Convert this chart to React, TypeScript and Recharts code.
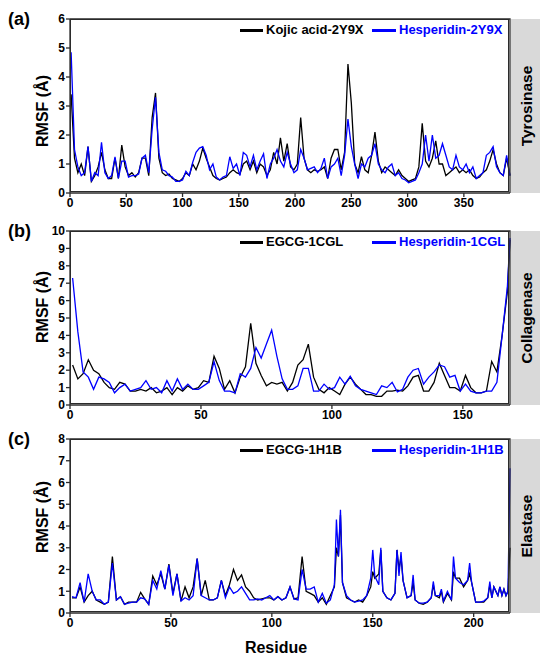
import React from 'react';
import { LineChart, Line, XAxis, YAxis, Legend } from 'recharts';

const FONT = '"Liberation Sans", Arial, Helvetica, sans-serif';

// (a) Tyrosinase, 2Y9X
const tyrResidue = [
  1, 4, 7, 10, 13, 16, 19, 22, 25, 28, 31, 34, 37, 40, 43, 46, 49, 52, 55, 58,
  61, 64, 67, 70, 73, 76, 79, 82, 85, 88, 91, 94, 97, 100, 103, 106, 109, 112, 115, 118,
  121, 124, 127, 130, 133, 136, 139, 142, 145, 148, 151, 154, 157, 160, 163, 166, 169, 172, 175, 178,
  181, 184, 187, 190, 193, 196, 199, 202, 205, 208, 211, 214, 217, 220, 223, 226, 229, 232, 235, 238,
  241, 244, 247, 250, 253, 256, 259, 262, 265, 268, 271, 274, 277, 280, 283, 286, 289, 292, 295, 298,
  301, 304, 307, 310, 313, 316, 319, 322, 325, 328, 331, 334, 337, 340, 343, 346, 349, 352, 355, 358,
  361, 364, 367, 370, 373, 376, 379, 382, 385, 388, 391,
];
const tyrKojic = [
  3.4, 1.2, 0.7, 1.0, 0.6, 1.6, 0.4, 0.6, 0.9, 1.4,
  0.8, 0.5, 0.5, 1.2, 0.5, 1.65, 0.9, 0.6, 0.7, 0.55,
  0.7, 1.2, 1.2, 0.6, 2.6, 3.45, 1.2, 0.7, 0.6, 0.65,
  0.5, 0.45, 0.4, 0.5, 0.7, 0.6, 1.0, 0.8, 1.1, 1.55,
  1.2, 0.9, 0.6, 0.5, 0.45, 0.5, 0.55, 0.7, 0.8, 0.7,
  0.65, 1.0, 1.1, 0.8, 1.1, 0.7, 1.0, 0.9, 0.6, 0.8,
  1.4, 1.0, 1.9, 1.1, 1.7, 0.9, 0.8, 1.0, 2.6, 1.2,
  0.8, 0.7, 0.8, 0.75, 0.8, 0.9, 0.5, 1.2, 1.5, 1.5,
  0.8, 1.4, 4.45, 3.1, 1.0, 0.7, 1.25, 0.8, 0.7, 1.3,
  2.1, 1.1, 0.7, 0.9, 0.8, 0.7, 0.6, 0.8, 0.6, 0.5,
  0.4, 0.45, 0.5, 0.9, 2.4, 1.1, 0.9, 1.2, 1.8, 1.0,
  1.0, 0.6, 0.7, 0.8, 0.9, 0.7, 0.8, 0.7, 0.8, 0.6,
  0.5, 0.55, 0.7, 0.8, 1.1, 1.5, 1.0, 0.7, 0.6, 1.2,
  0.6,
];
const tyrHesperidin = [
  4.85, 1.5, 0.9, 0.6, 0.7, 1.6, 0.4, 0.7, 0.6, 1.75,
  0.7, 0.5, 0.6, 1.25, 0.5, 1.1, 1.1, 0.55, 0.6, 0.6,
  0.65, 1.2, 1.3, 0.7, 2.2, 3.3, 1.4, 0.8, 0.75, 0.6,
  0.55, 0.4, 0.4, 0.45, 0.75, 0.6, 1.05, 1.4, 1.55, 1.6,
  1.3, 0.8, 1.0, 0.55, 0.45, 0.55, 0.6, 1.25, 0.85, 1.0,
  0.6, 1.4, 1.3, 0.9, 1.3, 0.8, 1.1, 1.35, 0.5, 1.0,
  1.2, 1.5, 1.1, 0.9, 1.4, 1.0, 0.7, 0.8, 1.5, 1.2,
  0.8, 0.85, 0.9, 0.7, 0.85, 1.2, 0.5, 0.9, 1.0, 1.2,
  0.6, 1.3, 2.55, 1.6, 1.0, 0.5, 1.0, 0.9, 1.2, 1.3,
  1.7, 1.0, 0.8, 0.7, 0.9, 1.0, 0.6, 0.7, 0.5, 0.45,
  0.35, 0.4, 0.45, 0.7, 1.0, 2.0, 1.1, 2.0, 1.2, 1.3,
  1.7, 1.3, 0.9, 0.8, 1.3, 0.9, 0.8, 1.0, 0.7, 0.9,
  0.5, 0.6, 0.7, 1.3, 1.4, 1.6, 0.9, 0.7, 0.6, 1.3,
  0.6,
];
const tyrTicksX = [0, 50, 100, 150, 200, 250, 300, 350];
const tyrTicksY = [0, 1, 2, 3, 4, 5, 6];

// (b) Collagenase, 1CGL
const colResidue = [
  1, 3, 5, 7, 9, 11, 13, 15, 17, 19, 21, 23, 25, 27, 29, 31, 33, 35, 37, 39,
  41, 43, 45, 47, 49, 51, 53, 55, 57, 59, 61, 63, 65, 67, 69, 71, 73, 75, 77, 79,
  81, 83, 85, 87, 89, 91, 93, 95, 97, 99, 101, 103, 105, 107, 109, 111, 113, 115, 117, 119,
  121, 123, 125, 127, 129, 131, 133, 135, 137, 139, 141, 143, 145, 147, 149, 151, 153, 155, 157, 159,
  161, 163, 165, 167, 168,
];
const colEgcg = [
  2.3, 1.5, 1.8, 2.6, 2.0, 1.8, 1.3, 1.0, 0.9, 1.3,
  1.2, 0.8, 0.8, 0.9, 0.8, 1.0, 0.7, 0.8, 1.0, 0.6,
  1.0, 0.8, 1.1, 0.9, 1.0, 1.4, 1.3, 2.8, 2.1, 0.9,
  1.4, 0.7, 1.6, 2.2, 4.7, 2.4, 1.7, 1.1, 1.3, 1.2,
  1.3, 0.8, 1.3, 2.3, 2.6, 3.5, 1.6, 0.9, 0.7, 1.0,
  0.8, 0.6, 1.2, 1.6, 1.2, 0.9, 0.6, 0.6, 0.5, 0.5,
  0.8, 0.8, 0.85, 0.8, 1.1, 1.6, 1.7, 0.8, 0.8, 1.3,
  2.4, 1.7, 1.0, 1.0, 0.8, 1.7, 1.0, 0.7, 0.7, 0.8,
  2.5, 1.9, 4.0, 6.5, 9.5,
];
const colHesperidin = [
  7.3, 4.2, 1.9, 1.6, 0.9, 1.6, 1.5, 1.3, 0.7, 1.0,
  1.2, 0.8, 0.9, 1.0, 1.4, 0.9, 1.0, 0.7, 1.4, 0.8,
  1.5, 0.9, 1.2, 0.9, 0.9, 1.1, 1.3, 2.5, 1.4, 0.8,
  0.8, 0.7, 1.8, 1.6, 2.1, 3.3, 2.7, 3.5, 4.3, 2.8,
  1.5, 0.9, 0.9, 1.1, 2.1, 2.1, 0.8, 0.8, 1.2, 0.9,
  1.0, 1.6, 1.2, 1.65, 1.1, 0.9, 0.8, 0.7, 0.6, 1.1,
  1.0, 1.3, 0.75, 0.9, 1.6, 2.0, 2.1, 1.2, 1.6, 1.9,
  2.3, 2.2, 1.6, 1.7, 0.8, 1.2, 0.8, 0.7, 0.7, 0.8,
  0.8, 1.3, 4.0, 6.8, 9.6,
];
const colTicksX = [0, 50, 100, 150];
const colTicksY = [0, 1, 2, 3, 4, 5, 6, 7, 8, 9, 10];

// (c) Elastase, 1H1B
const elaResidue = [
  1, 3, 5, 7, 9, 11, 13, 15, 17, 19, 21, 23, 25, 27, 29, 31, 33, 35, 37, 39,
  41, 43, 45, 47, 49, 51, 53, 55, 57, 59, 61, 63, 65, 67, 69, 71, 73, 75, 77, 79,
  81, 83, 85, 87, 89, 91, 93, 95, 97, 99, 101, 103, 105, 107, 109, 111, 113, 115, 117, 119,
  121, 123, 125, 127, 129, 131, 132, 133, 134, 135, 137, 139, 141, 143, 145, 147, 149, 150, 151, 153,
  154, 155, 157, 159, 161, 162, 163, 164, 165, 167, 169, 170, 171, 173, 175, 177, 179, 180, 181, 183,
  184, 185, 187, 189, 190, 191, 193, 195, 197, 198, 199, 201, 203, 205, 207, 208, 209, 210, 212, 213,
  214, 215, 216, 217, 218,
];
const elaEgcg = [
  0.7, 0.7, 1.2, 0.5, 0.8, 1.0, 0.6, 0.5, 0.4, 0.5,
  2.6, 0.6, 0.75, 0.4, 0.5, 0.5, 0.5, 0.95, 0.65, 0.4,
  1.7, 1.3, 1.8, 1.1, 2.25, 0.9, 1.8, 0.55, 1.2, 0.7,
  1.2, 2.5, 0.8, 1.5, 0.6, 0.6, 0.7, 1.5, 0.8, 1.3,
  2.0, 1.5, 1.75, 1.2, 1.0, 0.7, 0.6, 0.65, 0.7, 0.7,
  0.6, 0.75, 0.6, 0.7, 1.2, 0.65, 0.7, 2.6, 1.0, 0.9,
  0.8, 0.5, 0.7, 0.4, 0.8, 1.2, 3.0, 2.6, 4.5, 1.4,
  0.7, 0.6, 0.5, 0.6, 0.5, 0.8, 1.2, 1.9, 1.6, 1.8,
  2.9, 1.0, 0.7, 0.6, 0.9, 2.9, 2.0, 2.6, 1.5, 0.7,
  0.8, 1.4, 0.6, 0.45, 0.4, 0.5, 0.7, 1.3, 0.8, 0.7,
  1.0, 0.5, 0.9, 0.6, 1.9, 1.6, 1.6, 1.2, 1.5, 1.8,
  1.4, 0.5, 0.5, 0.5, 0.7, 1.3, 0.7, 1.2, 0.8, 1.2,
  0.8, 1.1, 0.8, 1.0, 3.0,
];
const elaHesperidin = [
  0.75, 0.7, 1.4, 0.5, 1.8, 1.0, 0.6, 0.6, 0.4, 0.5,
  2.3, 0.6, 0.75, 0.4, 0.45, 0.5, 0.5, 0.7, 0.65, 0.4,
  1.5, 1.1, 1.95, 1.1, 2.2, 0.8, 1.8, 0.55, 0.7, 0.6,
  0.8, 2.5, 0.8, 0.7, 0.6, 0.6, 0.7, 1.5, 0.7, 1.2,
  0.9, 1.0, 1.2, 0.9, 0.6, 0.6, 0.65, 0.6, 0.7, 0.8,
  0.6, 0.75, 0.6, 0.7, 1.2, 0.65, 0.6, 2.0, 1.1, 1.1,
  1.2, 0.5, 0.9, 0.45, 0.6, 1.3, 4.3, 2.6, 4.75, 1.4,
  0.8, 0.6, 0.5, 0.55, 0.6, 0.8, 1.6, 2.9, 1.7, 1.3,
  3.0, 1.0, 0.7, 0.6, 0.9, 2.9, 1.7, 2.8, 1.5, 0.7,
  0.8, 1.75, 0.6, 0.45, 0.45, 0.5, 0.7, 1.45, 0.8, 0.8,
  1.1, 0.55, 1.0, 0.6, 2.6, 1.6, 1.4, 1.3, 1.5, 2.3,
  1.4, 0.5, 0.5, 0.55, 0.7, 1.45, 0.7, 1.2, 0.8, 1.2,
  0.8, 1.1, 0.8, 1.0, 6.65,
];
const elaTicksX = [0, 50, 100, 150, 200];
const elaTicksY = [0, 1, 2, 3, 4, 5, 6, 7, 8];

const AXIS = { stroke: '#2b2b2b', strokeWidth: 1.3 };
const TICK = { fill: '#000', fontSize: 12, fontWeight: 'bold', fontFamily: FONT };

// plot rectangle inside each 550x213 panel
const PLOT_LEFT = 70;
const PLOT_TOP = 19;
const PLOT_W = 440;
const PLOT_H = 174;

interface PanelProps {
  top: number;
  residues: number[];
  blackValues: number[];
  blueValues: number[];
  blackName: string;
  blueName: string;
  xMax: number;
  xTicks: number[];
  yTicks: number[];
}

const Panel: React.FC<PanelProps> = ({
  top,
  residues,
  blackValues,
  blueValues,
  blackName,
  blueName,
  xMax,
  xTicks,
  yTicks,
}) => {
  const data = residues.map((r, i) => ({ residue: r, black: blackValues[i], blue: blueValues[i] }));
  const yMax = yTicks[yTicks.length - 1];

  const renderLegend = () => (
    <div style={{ display: 'flex', alignItems: 'center', fontFamily: FONT, fontWeight: 'bold', fontSize: 13, lineHeight: '16px' }}>
      <div style={{ width: 132, display: 'flex', alignItems: 'center' }}>
        <span style={{ display: 'inline-block', width: 23, height: 3, background: '#000', marginRight: 3 }} />
        <span style={{ color: '#000' }}>{blackName}</span>
      </div>
      <div style={{ display: 'flex', alignItems: 'center' }}>
        <span style={{ display: 'inline-block', width: 24, height: 3, background: '#0000ff', marginRight: 3 }} />
        <span style={{ color: '#0000ff' }}>{blueName}</span>
      </div>
    </div>
  );

  return (
    <div style={{ position: 'absolute', left: 0, top }}>
      <LineChart
        width={550}
        height={213}
        data={data}
        margin={{ top: PLOT_TOP, right: 550 - PLOT_LEFT - PLOT_W, bottom: 0, left: 0 }}
      >
        <XAxis
          dataKey="residue"
          type="number"
          domain={[0, xMax]}
          ticks={xTicks}
          interval={0}
          height={213 - PLOT_TOP - PLOT_H}
          tickSize={4}
          tickMargin={1}
          axisLine={AXIS}
          tickLine={AXIS}
          tick={TICK}
        />
        <YAxis
          type="number"
          domain={[0, yMax]}
          ticks={yTicks}
          interval={0}
          width={PLOT_LEFT}
          tickSize={4}
          tickMargin={1}
          axisLine={AXIS}
          tickLine={AXIS}
          tick={TICK}
        />
        <Legend layout="horizontal" verticalAlign="middle" content={renderLegend} wrapperStyle={{ top: 22, left: 240, width: 290, height: 16 }} />
        <Line type="linear" dataKey="black" name={blackName} stroke="#000000" strokeWidth={1.3} dot={false} isAnimationActive={false} />
        <Line type="linear" dataKey="blue" name={blueName} stroke="#0000ff" strokeWidth={1.3} dot={false} isAnimationActive={false} />
      </LineChart>
      {/* plot frame, drawn as a bordered box over the plot area */}
      <div
        style={{
          position: 'absolute',
          left: PLOT_LEFT - 0.5,
          top: PLOT_TOP - 0.5,
          width: PLOT_W - 0.5,
          height: PLOT_H - 0.5,
          border: '1.3px solid #2b2b2b',
          boxSizing: 'border-box',
          zIndex: 5,
          pointerEvents: 'none',
        }}
      />
    </div>
  );
};

const panelTops = [0, 212, 420];
const panelLetters = ['(a)', '(b)', '(c)'];
const stripLabels = ['Tyrosinase', 'Collagenase', 'Elastase'];
const rmsfCenters = [111, 307, 517];

export default function App() {
  return (
    <div style={{ position: 'absolute', left: 0, top: 0, width: 550, height: 661, background: '#fff', fontFamily: FONT }}>
      <Panel top={panelTops[0]} residues={tyrResidue} blackValues={tyrKojic} blueValues={tyrHesperidin}
        blackName="Kojic acid-2Y9X" blueName="Hesperidin-2Y9X" xMax={391} xTicks={tyrTicksX} yTicks={tyrTicksY} />
      <Panel top={panelTops[1]} residues={colResidue} blackValues={colEgcg} blueValues={colHesperidin}
        blackName="EGCG-1CGL" blueName="Hesperidin-1CGL" xMax={168} xTicks={colTicksX} yTicks={colTicksY} />
      <Panel top={panelTops[2]} residues={elaResidue} blackValues={elaEgcg} blueValues={elaHesperidin}
        blackName="EGCG-1H1B" blueName="Hesperidin-1H1B" xMax={218} xTicks={elaTicksX} yTicks={elaTicksY} />

      <svg width={550} height={661} style={{ position: 'absolute', left: 0, top: 0, zIndex: 10, pointerEvents: 'none' }}>
        {panelTops.map((t, i) => (
          <g key={i}>
            <rect x={PLOT_LEFT + PLOT_W + 1} y={t + PLOT_TOP} width={29} height={PLOT_H} fill="#d9d9d9" />
            <path
              d={`M${PLOT_LEFT},${t + PLOT_TOP} H${PLOT_LEFT + PLOT_W} V${t + PLOT_TOP + PLOT_H}`}
              fill="none"
              stroke="#2b2b2b"
              strokeWidth={1.3}
            />
            <text x={8} y={t + 25} fontFamily={FONT} fontWeight="bold" fontSize={18} fill="#000">
              {panelLetters[i]}
            </text>
            <text
              transform={`translate(526,${t + 106}) rotate(-90)`}
              textAnchor="middle"
              dominantBaseline="central"
              fontFamily={FONT}
              fontWeight="bold"
              fontSize={15.5}
              fill="#000"
            >
              {stripLabels[i]}
            </text>
            <text
              transform={`translate(42,${rmsfCenters[i]}) rotate(-90)`}
              textAnchor="middle"
              dominantBaseline="central"
              fontFamily={FONT}
              fontWeight="bold"
              fontSize={16}
              fill="#000"
            >
              RMSF (Å)
            </text>
          </g>
        ))}
        <text x={276} y={653} textAnchor="middle" fontFamily={FONT} fontWeight="bold" fontSize={16} fill="#000">
          Residue
        </text>
      </svg>
    </div>
  );
}
